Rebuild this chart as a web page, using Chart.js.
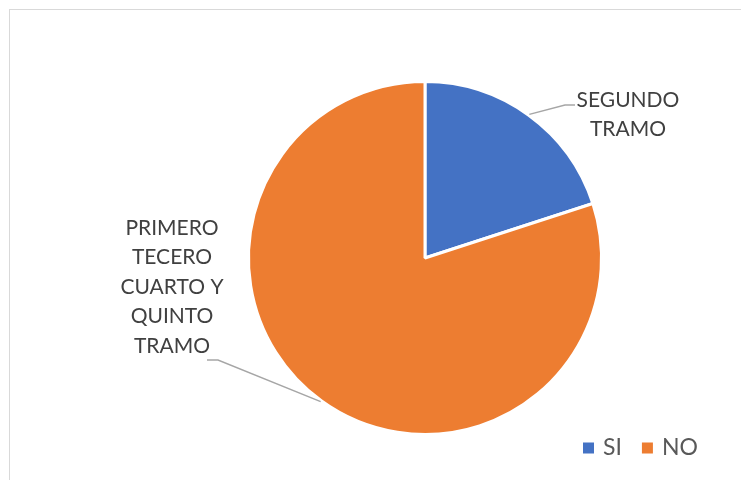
<!DOCTYPE html>
<html>
<head>
<meta charset="utf-8">
<script src="https://cdn.jsdelivr.net/npm/chart.js@4"></script>
<style>
  html, body { margin: 0; padding: 0; background: #fff; }
  #wrap { position: relative; width: 741px; height: 480px; overflow: hidden; }
  #frame { position: absolute; left: 9px; top: 9px; width: 800px; height: 520px; border: 1px solid #d9d9d9; box-sizing: border-box; }
  canvas { position: absolute; left: 0; top: 0; }
</style>
</head>
<body>
<div id="wrap">
  <div id="frame"></div>
  <canvas id="c" width="741" height="480"></canvas>
</div>
<script>
const categories = ['SI', 'NO'];
const values = [20, 80];
const colors = ['#4472C4', '#ED7D31'];
const sliceLabels = [
  ['SEGUNDO', 'TRAMO'],
  ['PRIMERO', 'TECERO', 'CUARTO Y', 'QUINTO', 'TRAMO']
];

const FONT = 'Lato, "Open Sans", sans-serif';

// label layout relative to pie centre (dx, dy), elbow relative to centre
const labelLayout = [
  { elbow: [140, -153], end: [150, -153], tx: 203, ty: -158, lh: 29.5 },
  { elbow: [-207, 102], end: [-218, 102], tx: -253, ty: -30, lh: 29.5 }
];

const labelPlugin = {
  id: 'labels',
  afterDatasetsDraw(chart) {
    const ctx = chart.ctx;
    const meta = chart.getDatasetMeta(0);
    ctx.save();
    meta.data.forEach((arc, i) => {
      const { x, y, startAngle, endAngle, outerRadius } = arc.getProps(['x','y','startAngle','endAngle','outerRadius'], true);
      const mid = (startAngle + endAngle) / 2;
      const sx = x + Math.cos(mid) * (outerRadius + 1);
      const sy = y + Math.sin(mid) * (outerRadius + 1);
      const L = labelLayout[i];
      ctx.strokeStyle = '#a6a6a6';
      ctx.lineWidth = 1.5;
      ctx.beginPath();
      ctx.moveTo(sx, sy);
      ctx.lineTo(x + L.elbow[0], y + L.elbow[1]);
      ctx.lineTo(x + L.end[0], y + L.end[1]);
      ctx.stroke();
      ctx.fillStyle = '#404040';
      ctx.font = '21px ' + FONT;
      ctx.textAlign = 'center';
      ctx.textBaseline = 'middle';
      sliceLabels[i].forEach((t, k) => {
        ctx.fillText(t, x + L.tx, y + L.ty + k * L.lh);
      });
    });
    // legend
    const legY = 448;
    let lx = 583;
    ctx.font = '23px ' + FONT;
    ctx.textAlign = 'left';
    ctx.textBaseline = 'middle';
    categories.forEach((c, i) => {
      ctx.fillStyle = colors[i];
      ctx.fillRect(lx, legY - 5.5, 11, 11);
      ctx.fillStyle = '#595959';
      ctx.fillText(c, lx + 20, legY);
      lx += 20 + ctx.measureText(c).width + 20;
    });
    ctx.restore();
  }
};

new Chart(document.getElementById('c'), {
  type: 'pie',
  data: {
    labels: categories,
    datasets: [{
      data: values,
      backgroundColor: colors,
      borderColor: '#ffffff',
      borderWidth: 3
    }]
  },
  options: {
    responsive: false,
    animation: false,
    layout: { padding: { left: 247, right: 138, top: 80, bottom: 44 } },
    plugins: { legend: { display: false }, tooltip: { enabled: false } }
  },
  plugins: [labelPlugin]
});
</script>
</body>
</html>
